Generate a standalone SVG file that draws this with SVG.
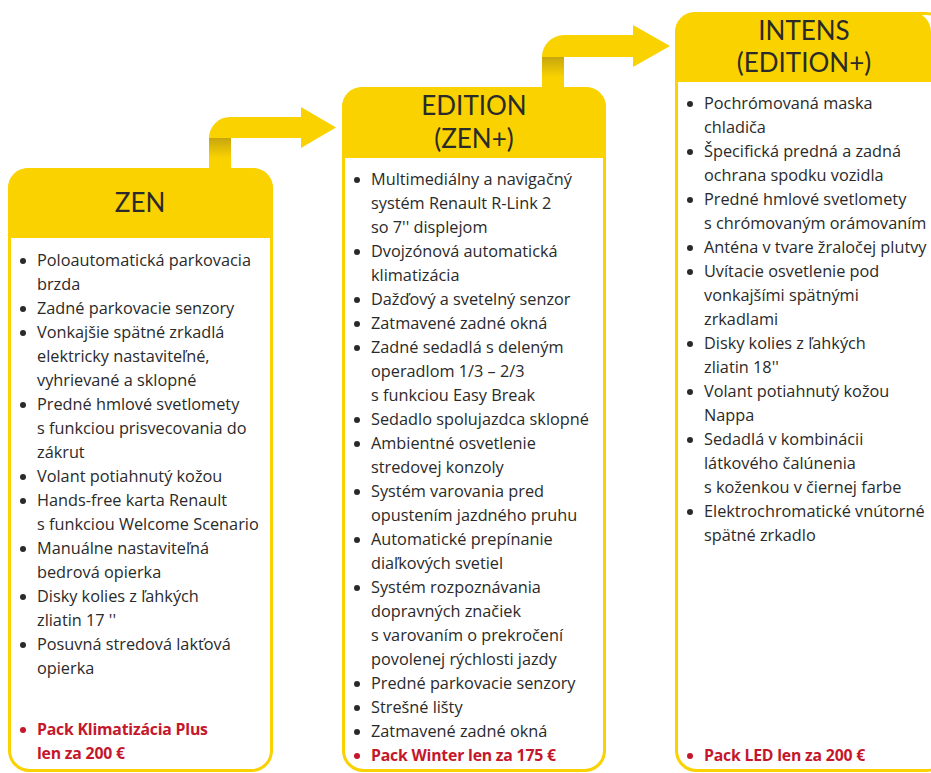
<svg xmlns="http://www.w3.org/2000/svg" width="931" height="773" viewBox="0 0 931 773">
<defs>
<style>
.box{fill:#fff;stroke:#F9D200;stroke-width:3}
.hdr{fill:#F9D200}
.arrow{fill:#F9D200}
.ttl{font-family:Lato,"Open Sans","Liberation Sans",sans-serif;font-size:26px;font-weight:400;fill:#2a2a2a;text-anchor:middle}
.it{font-family:"Open Sans","Liberation Sans",sans-serif;font-size:16.3px;fill:#2a2a2a}
.red{font-family:"Open Sans","Liberation Sans",sans-serif;font-size:15.8px;fill:#C4172C;font-weight:bold;letter-spacing:-0.2px}
.b{fill:#2a2a2a}
.rb{fill:#C4172C}
</style>
<linearGradient id="sh" x1="0" y1="0" x2="0" y2="1">
<stop offset="0" stop-color="#8a7020" stop-opacity="0.45"/>
<stop offset="1" stop-color="#8a7020" stop-opacity="0"/>
</linearGradient>
</defs>

<g id="connectors">
<path class="arrow" d="M209,168 V138 A21,21 0 0 1 230,117 H301 V107 L336,127.5 L301,148 V138 H231 V168 Z"/>
<rect x="209" y="138" width="22" height="20" fill="url(#sh)"/>
<path class="arrow" d="M542,87 V57 A22,22 0 0 1 564,35 H633 V25 L670,46 L633,67 V57 H564 V87 Z"/>
<rect x="542" y="57" width="22" height="20" fill="url(#sh)"/>
</g>

<g id="zen">
<rect class="box" x="9.5" y="169.5" width="262" height="601" rx="20"/>
<path class="hdr" d="M8,238 V188 A20,20 0 0 1 28,168 H253 A20,20 0 0 1 273,188 V238 Z"/>
<text class="ttl" x="140" y="212">ZEN</text>
<g class="b">
<circle cx="23" cy="261" r="3"/><circle cx="23" cy="309" r="3"/><circle cx="23" cy="333" r="3"/><circle cx="23" cy="405" r="3"/><circle cx="23" cy="477" r="3"/><circle cx="23" cy="501" r="3"/><circle cx="23" cy="549" r="3"/><circle cx="23" cy="597" r="3"/><circle cx="23" cy="645" r="3"/>
</g>
<circle class="rb" cx="23" cy="730" r="3"/>
<text class="it" x="37" y="266">Poloautomatická parkovacia</text>
<text class="it" x="37" y="290">brzda</text>
<text class="it" x="37" y="314">Zadné parkovacie senzory</text>
<text class="it" x="37" y="338">Vonkajšie spätné zrkadlá</text>
<text class="it" x="37" y="362">elektricky nastaviteľné,</text>
<text class="it" x="37" y="386">vyhrievané a sklopné</text>
<text class="it" x="37" y="410">Predné hmlové svetlomety</text>
<text class="it" x="37" y="434">s funkciou prisvecovania do</text>
<text class="it" x="37" y="458">zákrut</text>
<text class="it" x="37" y="482">Volant potiahnutý kožou</text>
<text class="it" x="37" y="506">Hands-free karta Renault</text>
<text class="it" x="37" y="530">s funkciou Welcome Scenario</text>
<text class="it" x="37" y="554">Manuálne nastaviteľná</text>
<text class="it" x="37" y="578">bedrová opierka</text>
<text class="it" x="37" y="602">Disky kolies z ľahkých</text>
<text class="it" x="37" y="626">zliatin 17 ''</text>
<text class="it" x="37" y="650">Posuvná stredová lakťová</text>
<text class="it" x="37" y="674">opierka</text>
<text class="red" x="37" y="735">Pack Klimatizácia Plus</text>
<text class="red" x="37" y="759">len za 200 €</text>
</g>

<g id="edition">
<rect class="box" x="343.5" y="88.5" width="261" height="682" rx="20"/>
<path class="hdr" d="M342,158 V107 A20,20 0 0 1 362,87 H586 A20,20 0 0 1 606,107 V158 Z"/>
<text class="ttl" x="474" y="115">EDITION</text>
<text class="ttl" x="474" y="148">(ZEN+)</text>
<g class="b">
<circle cx="357" cy="180" r="3"/><circle cx="357" cy="252" r="3"/><circle cx="357" cy="300" r="3"/><circle cx="357" cy="324" r="3"/><circle cx="357" cy="348" r="3"/><circle cx="357" cy="420" r="3"/><circle cx="357" cy="444" r="3"/><circle cx="357" cy="492" r="3"/><circle cx="357" cy="540" r="3"/><circle cx="357" cy="588" r="3"/><circle cx="357" cy="684" r="3"/><circle cx="357" cy="708" r="3"/><circle cx="357" cy="732" r="3"/>
</g>
<circle class="rb" cx="357" cy="756" r="3"/>
<text class="it" x="371" y="185">Multimediálny a navigačný</text>
<text class="it" x="371" y="209">systém Renault R-Link 2</text>
<text class="it" x="371" y="233">so 7'' displejom</text>
<text class="it" x="371" y="257">Dvojzónová automatická</text>
<text class="it" x="371" y="281">klimatizácia</text>
<text class="it" x="371" y="305">Dažďový a svetelný senzor</text>
<text class="it" x="371" y="329">Zatmavené zadné okná</text>
<text class="it" x="371" y="353">Zadné sedadlá s deleným</text>
<text class="it" x="371" y="377">operadlom 1/3 – 2/3</text>
<text class="it" x="371" y="401">s funkciou Easy Break</text>
<text class="it" x="371" y="425">Sedadlo spolujazdca sklopné</text>
<text class="it" x="371" y="449">Ambientné osvetlenie</text>
<text class="it" x="371" y="473">stredovej konzoly</text>
<text class="it" x="371" y="497">Systém varovania pred</text>
<text class="it" x="371" y="521">opustením jazdného pruhu</text>
<text class="it" x="371" y="545">Automatické prepínanie</text>
<text class="it" x="371" y="569">diaľkových svetiel</text>
<text class="it" x="371" y="593">Systém rozpoznávania</text>
<text class="it" x="371" y="617">dopravných značiek</text>
<text class="it" x="371" y="641">s varovaním o prekročení</text>
<text class="it" x="371" y="665">povolenej rýchlosti jazdy</text>
<text class="it" x="371" y="689">Predné parkovacie senzory</text>
<text class="it" x="371" y="713">Strešné lišty</text>
<text class="it" x="371" y="737">Zatmavené zadné okná</text>
<text class="red" x="371" y="761">Pack Winter len za 175 €</text>
</g>

<g id="intens">
<rect class="box" x="676.5" y="13.5" width="270" height="757" rx="20"/>
<path class="hdr" d="M675,82 V32 A20,20 0 0 1 695,12 H911 A20,20 0 0 1 931,32 V82 Z"/>
<text class="ttl" x="804" y="40">INTENS</text>
<text class="ttl" x="804" y="72">(EDITION+)</text>
<g class="b">
<circle cx="690" cy="104" r="3"/><circle cx="690" cy="152" r="3"/><circle cx="690" cy="200" r="3"/><circle cx="690" cy="248" r="3"/><circle cx="690" cy="272" r="3"/><circle cx="690" cy="344" r="3"/><circle cx="690" cy="392" r="3"/><circle cx="690" cy="440" r="3"/><circle cx="690" cy="512" r="3"/>
</g>
<circle class="rb" cx="690" cy="756" r="3"/>
<text class="it" x="704" y="109">Pochrómovaná maska</text>
<text class="it" x="704" y="133">chladiča</text>
<text class="it" x="704" y="157">Špecifická predná a zadná</text>
<text class="it" x="704" y="181">ochrana spodku vozidla</text>
<text class="it" x="704" y="205">Predné hmlové svetlomety</text>
<text class="it" x="704" y="229">s chrómovaným orámovaním</text>
<text class="it" x="704" y="253">Anténa v tvare žraločej plutvy</text>
<text class="it" x="704" y="277">Uvítacie osvetlenie pod</text>
<text class="it" x="704" y="301">vonkajšími spätnými</text>
<text class="it" x="704" y="325">zrkadlami</text>
<text class="it" x="704" y="349">Disky kolies z ľahkých</text>
<text class="it" x="704" y="373">zliatin 18''</text>
<text class="it" x="704" y="397">Volant potiahnutý kožou</text>
<text class="it" x="704" y="421">Nappa</text>
<text class="it" x="704" y="445">Sedadlá v kombinácii</text>
<text class="it" x="704" y="469">látkového čalúnenia</text>
<text class="it" x="704" y="493">s koženkou v čiernej farbe</text>
<text class="it" x="704" y="517">Elektrochromatické vnútorné</text>
<text class="it" x="704" y="541">spätné zrkadlo</text>
<text class="red" x="704" y="761">Pack LED len za 200 €</text>
</g>
</svg>
